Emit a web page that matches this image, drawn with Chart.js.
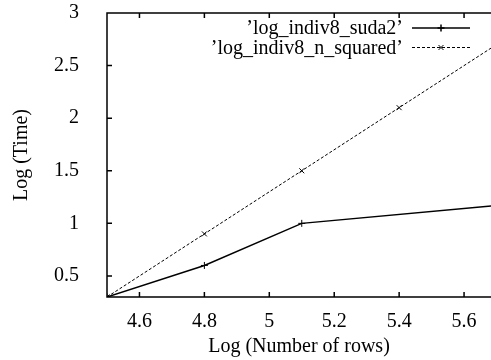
<!DOCTYPE html>
<html>
<head>
<meta charset="utf-8">
<script src="https://cdn.jsdelivr.net/npm/chart.js@4"></script>
<style>html,body{margin:0;padding:0;background:#fff}</style>
</head>
<body>
<canvas id="chart" width="491" height="360"></canvas>
<script>
// log10 of row count vs log10 of run time
const suda2X = [4.5, 4.8, 5.1, 5.7];
const suda2Y = [0.3, 0.6, 1.0, 1.17];
const nSquaredX = [4.5, 4.8, 5.1, 5.4, 5.7];
const nSquaredY = [0.3, 0.9, 1.5, 2.1, 2.7];
const xTicks = [4.6, 4.8, 5, 5.2, 5.4, 5.6];
const yTicks = [0.5, 1, 1.5, 2, 2.5, 3];

const font = {family: '"Liberation Serif", "DejaVu Serif", serif', size: 20};
const toPoints = (xs, ys) => xs.map((x, i) => ({x: x, y: ys[i]}));

// gnuplot style frame: inward ticks, mirrored on top, plus key in the corner
const gnuFrame = {
    id: 'gnuFrame',
    afterDraw(chart) {
        const {ctx, chartArea: a, scales: {x, y}} = chart;
        ctx.save();
        ctx.strokeStyle = '#000';
        ctx.lineWidth = 1.5;
        ctx.beginPath();
        ctx.moveTo(a.right, a.top);
        ctx.lineTo(a.left, a.top);
        ctx.lineTo(a.left, a.bottom);
        ctx.lineTo(a.right, a.bottom);
        xTicks.forEach(v => {
            const px = x.getPixelForValue(v);
            ctx.moveTo(px, a.bottom); ctx.lineTo(px, a.bottom - 5);
            ctx.moveTo(px, a.top); ctx.lineTo(px, a.top + 5);
        });
        yTicks.forEach(v => {
            const py = y.getPixelForValue(v);
            ctx.moveTo(a.left, py); ctx.lineTo(a.left + 5, py);
        });
        ctx.stroke();

        ctx.font = font.size + 'px ' + font.family;
        ctx.fillStyle = '#000';
        ctx.textAlign = 'right';
        ctx.textBaseline = 'middle';
        chart.data.datasets.forEach((ds, i) => {
            const ry = 28 + i * 19.5;
            ctx.fillText(ds.label, 403, ry + 1);
            ctx.lineWidth = ds.borderWidth;
            ctx.setLineDash(ds.borderDash || []);
            ctx.beginPath();
            ctx.moveTo(412, ry);
            ctx.lineTo(470, ry);
            ctx.stroke();
            ctx.setLineDash([]);
            Chart.helpers.drawPoint(ctx, {
                pointStyle: ds.pointStyle, radius: ds.pointRadius, rotation: 0, borderWidth: 1
            }, 441, ry);
        });
        ctx.restore();
    }
};

new Chart('chart', {
    type: 'scatter',
    data: {
        datasets: [{
            label: '\u2019log_indiv8_suda2\u2019',
            data: toPoints(suda2X, suda2Y),
            showLine: true,
            borderColor: '#000',
            backgroundColor: '#000',
            borderWidth: 1.5,
            pointStyle: 'cross',
            pointRadius: 3.5,
            pointBorderWidth: 1,
        }, {
            label: '\u2019log_indiv8_n_squared\u2019',
            data: toPoints(nSquaredX, nSquaredY),
            showLine: true,
            borderColor: '#000',
            backgroundColor: '#000',
            borderWidth: 1,
            borderDash: [3, 2],
            pointStyle: 'crossRot',
            pointRadius: 3.5,
            pointBorderWidth: 1,
        }],
    },
    options: {
        responsive: false,
        animation: false,
        layout: {autoPadding: false, padding: {top: 13, right: 0, left: 0, bottom: 0}},
        plugins: {
            legend: {display: false},
            tooltip: {enabled: false}
        },
        scales: {
            x: {
                type: 'linear',
                min: 4.5,
                max: 5.683,
                afterBuildTicks: scale => { scale.ticks = xTicks.map(v => ({value: v})); },
                afterFit: scale => { scale.height = 63; scale.paddingLeft = 0; scale.paddingRight = 0; },
                grid: {display: false},
                border: {display: false},
                ticks: {font: font, color: '#000', padding: 5, maxRotation: 0, callback: v => String(v)},
                title: {display: true, text: 'Log (Number of rows)', font: font, color: '#000', padding: {top: 0, bottom: 1}}
            },
            y: {
                min: 0.3,
                max: 3,
                afterBuildTicks: scale => { scale.ticks = yTicks.map(v => ({value: v})); },
                afterFit: scale => { scale.width = 107; scale.paddingTop = 0; scale.paddingBottom = 0; },
                grid: {display: false},
                border: {display: false},
                ticks: {font: font, color: '#000', padding: 20, callback: v => String(v)},
                title: {display: true, text: 'Log (Time)', font: font, color: '#000', padding: {top: 10, bottom: 0}}
            }
        }
    },
    plugins: [gnuFrame]
});
</script>
</body>
</html>
